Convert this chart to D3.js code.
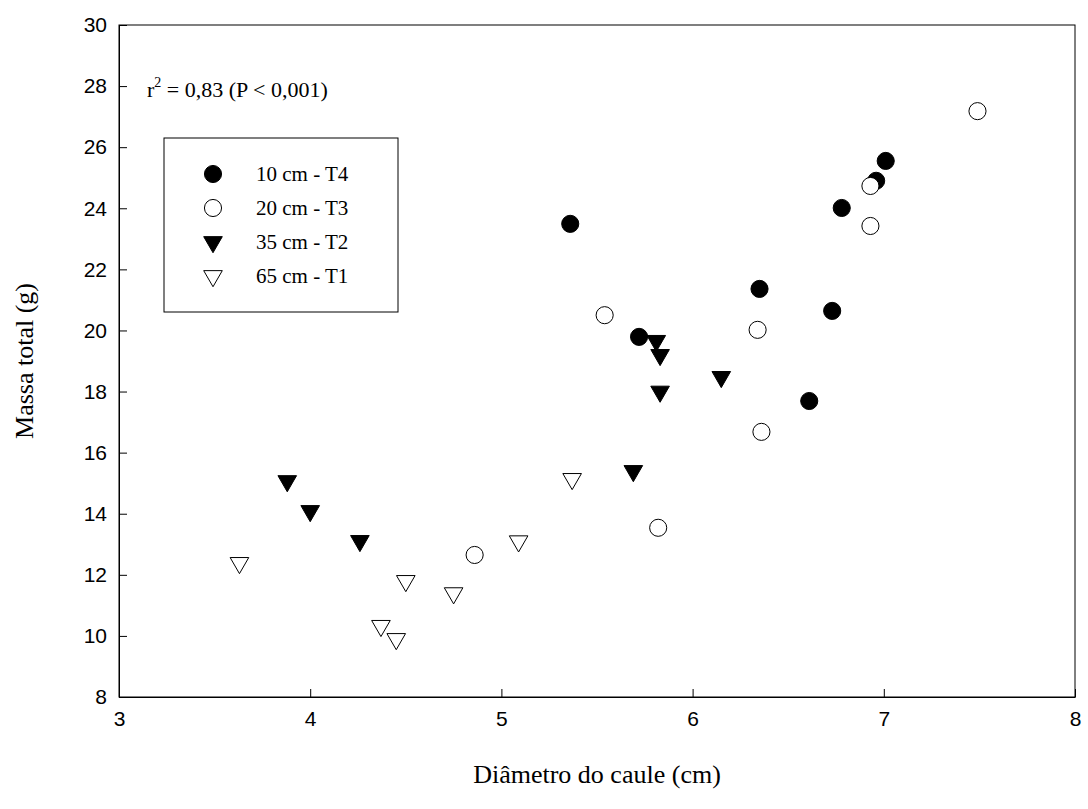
<!DOCTYPE html>
<meta charset="utf-8">
<style>
body { margin: 0; background: #fff; }
.axis text { font-family: Arial, "Liberation Sans", sans-serif; font-size: 21px; fill: #000; }
.axis path, .axis line { stroke: #000; stroke-width: 1; }
.ttl { font-family: "Times New Roman", "Liberation Serif", serif; font-size: 26px; }
</style>
<body></body>
<script src="https://d3js.org/d3.v7.min.js"></script>
<script>
// series: [diametro, massa]
var t4 = [[5.36,23.49],[5.72,19.79],[6.35,21.36],[6.61,17.69],[6.73,20.64],[6.78,24.01],[6.96,24.9],[7.01,25.55]];
var t3 = [[4.86,12.65],[5.54,20.5],[5.82,13.54],[6.34,20.02],[6.36,16.68],[6.93,24.73],[6.93,23.42],[7.49,27.18]];
var t2 = [[3.88,15.07],[4.00,14.09],[4.26,13.11],[5.69,15.4],[5.81,19.66],[5.83,19.2],[5.83,18.0],[6.15,18.48]];
var t1 = [[3.63,12.39],[4.37,10.33],[4.45,9.9],[4.50,11.8],[4.75,11.4],[5.09,13.1],[5.37,15.14]];
var xTicks = [3,4,5,6,7,8];
var yTicks = [8,10,12,14,16,18,20,22,24,26,28,30];
var legendLabels = ["10 cm - T4","20 cm - T3","35 cm - T2","65 cm - T1"];

var svg = d3.select("body").append("svg").attr("width",1088).attr("height",809);
var x = d3.scaleLinear().domain([3,8]).range([119,1075]);
var y = d3.scaleLinear().domain([8,30]).range([697,25]);

svg.append("rect").attr("x",119).attr("y",25).attr("width",956).attr("height",672)
  .attr("fill","none").attr("stroke","#000");

svg.append("g").attr("class","axis").attr("transform","translate(0,697)")
  .call(d3.axisBottom(x).tickValues(xTicks).tickFormat(d3.format("d")).tickSizeInner(-8).tickSizeOuter(0).tickPadding(14));
svg.append("g").attr("class","axis").attr("transform","translate(119,0)")
  .call(d3.axisLeft(y).tickValues(yTicks).tickFormat(d3.format("d")).tickSizeInner(-8).tickSizeOuter(0).tickPadding(12));

svg.append("text").attr("class","ttl").attr("x",597).attr("y",783).attr("text-anchor","middle").text("Diâmetro do caule (cm)");
svg.append("text").attr("class","ttl").attr("transform","translate(33,361) rotate(-90)").attr("text-anchor","middle").text("Massa total (g)");

var r2 = svg.append("text").attr("class","ttl").attr("x",147).attr("y",97).style("font-size","22px");
r2.append("tspan").text("r");
r2.append("tspan").attr("dy",-10).style("font-size","14px").text("2");
r2.append("tspan").attr("dy",10).text(" = 0,83 (P < 0,001)");

var circ = d3.symbol().type(d3.symbolCircle).size(230);
var tri = d3.symbol().type(d3.symbolTriangle).size(150);
var series = [
  {d:t4, sym:circ, fill:"#000", rot:0},
  {d:t3, sym:circ, fill:"#fff", rot:0},
  {d:t2, sym:tri, fill:"#000", rot:180},
  {d:t1, sym:tri, fill:"#fff", rot:180}
];
series.forEach(function(s){
  svg.append("g").selectAll("path").data(s.d).enter().append("path")
    .attr("d", s.sym)
    .attr("transform", function(p){ return "translate(" + x(p[0]) + "," + y(p[1]) + ") rotate(" + s.rot + ")"; })
    .attr("fill", s.fill).attr("stroke","#000").attr("stroke-width",1);
});

var lg = svg.append("g");
lg.append("rect").attr("x",164).attr("y",138).attr("width",234).attr("height",174)
  .attr("fill","#fff").attr("stroke","#000");
series.forEach(function(s,i){
  var yy = 174 + i*34;
  lg.append("path").attr("d", s.sym).attr("transform","translate(213," + yy + ") rotate(" + s.rot + ")")
    .attr("fill", s.fill).attr("stroke","#000");
  lg.append("text").attr("class","ttl").style("font-size","21px").attr("x",256).attr("y",yy+7).text(legendLabels[i]);
});
</script>
